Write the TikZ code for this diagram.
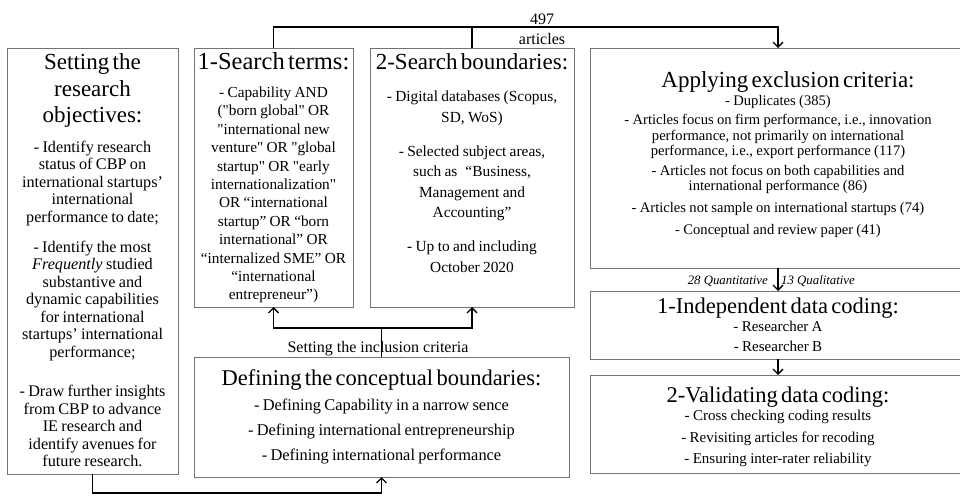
\documentclass[tikz,border=0pt]{standalone}
\usepackage{fontspec}
\setmainfont{Liberation Serif}[Ligatures=TeXOff]
\usetikzlibrary{arrows.meta, positioning}
\setlength{\parskip}{0pt}
\lineskiplimit=-\maxdimen

\newcommand{\ttlfont}{\fontsize{23}{26}\selectfont}
\newcommand{\bigttlfont}{\fontsize{24.5}{26}\selectfont}
\newcommand{\subttlfont}{\fontsize{22.5}{24}\selectfont}
\newcommand{\objfont}{\fontsize{16.2}{17.5}\selectfont}
\newcommand{\srchfont}{\fontsize{15.3}{18.4}\selectfont}
\newcommand{\bndfont}{\fontsize{15.4}{20.5}\selectfont}
\newcommand{\exclfont}{\fontsize{14.6}{15.2}\selectfont}
\newcommand{\codefont}{\fontsize{15}{20}\selectfont}
\newcommand{\validfont}{\fontsize{15}{21.5}\selectfont}
\newcommand{\cncfont}{\fontsize{16.4}{25}\selectfont}

\begin{document}
\begin{tikzpicture}[
    x=1pt, y=-1pt,
    box/.style={draw=black!55, line width=0.8pt, anchor=north west, inner xsep=2pt, inner ysep=0pt, outer sep=0pt, align=center},
    line/.style={draw=black, line width=1.6pt},
    arrow/.style={line, -{Straight Barb[length=5pt, width=10pt, line width=1.3pt]}},
    lbl/.style={inner sep=0pt, font=\fontsize{16}{18}\selectfont},
    qlbl/.style={inner sep=0pt, font=\fontsize{12.8}{14}\selectfont\itshape}
]
\useasboundingbox (0,0) rectangle (960,495);

% Objectives
\node[box, text width=167pt, text height=22pt, text depth=404pt] (obj) at (7,48) {%
{\ttlfont Setting the\\ research\\ objectives:\par}
\vspace{12.5pt}
{\objfont - Identify research\\ status of CBP on\\ international startups’\\ international\\ performance to date;\par}
\vspace{12.5pt}
{\objfont - Identify the most\\ \textit{Frequently} studied\\ substantive and\\ dynamic capabilities\\ for international\\ startups’ international\\ performance;\par}
\vspace{22pt}
{\objfont - Draw further insights\\ from CBP to advance\\ IE research and\\ identify avenues for\\ future research.\par}};

% Search layer
\node[box, text width=155pt, text height=22pt, text depth=237pt] (terms) at (194,48) {%
{\bigttlfont 1-Search terms:\par}
\vspace{9pt}
{\srchfont - Capability AND\\ ("born global" OR\\ "international new\\ venture" OR "global\\ startup" OR "early\\ internationalization"\\ OR “international\\ startup” OR “born\\ international” OR\\ “internalized SME” OR\\ “international\\ entrepreneur”)\par}};

\node[box, text width=200pt, text height=22pt, text depth=237pt] (bound) at (370,48) {%
{\ttlfont 2-Search boundaries:\par}
\vspace{11pt}
{\bndfont - Digital databases (Scopus,\\ SD, WoS)\par}
\vspace{13.5pt}
{\bndfont - Selected subject areas,\\ such as\hspace{8pt}“Business,\\ Management and\\ Accounting”\par}
\vspace{13.5pt}
{\bndfont - Up to and including\\ October 2020\par}};

% Inclusion criteria
\node[box, text width=371pt, text height=28pt, text depth=92pt] (concept) at (194,357) {%
{\subttlfont Defining the conceptual boundaries:\par}
\vspace{0.5pt}
{\cncfont - Defining Capability in a narrow sence\\ - Defining international entrepreneurship\\ - Defining international performance\par}};

% Screening and coding
\node[box, text width=372pt, text height=39pt, text depth=181pt] (excl) at (590,48) {%
{\ttlfont \hspace*{20pt}Applying exclusion criteria:\par}
\vspace{3.5pt}
{\exclfont - Duplicates (385)\par}
\vspace{4pt}
{\exclfont - Articles focus on firm performance, i.e., innovation\\ performance, not primarily on international\\ performance, i.e., export performance (117)\par}
\vspace{5.2pt}
{\exclfont - Articles not focus on both capabilities and\\ international performance (86)\par}
\vspace{6.2pt}
{\exclfont - Articles not sample on international startups (74)\par}
\vspace{7.2pt}
{\exclfont - Conceptual and review paper (41)\par}};

\node[box, text width=372pt, text height=22.5pt, text depth=45.5pt] (indep) at (590,291) {%
{\subttlfont 1-Independent data coding:\par}
\vspace{-2pt}
{\codefont - Researcher A\\ - Researcher B\par}};

\node[box, text width=372pt, text height=27pt, text depth=71pt] (valid) at (590,375) {%
{\subttlfont 2-Validating data coding:\par}
\vspace{-3pt}
{\validfont - Cross checking coding results\\ - Revisiting articles for recoding\\ - Ensuring inter-rater reliability\par}};

% Connectors
\coordinate (topbar) at (0,27);
\coordinate (inclbar) at (0,328);
\coordinate (botbar) at (0,493);

\draw[arrow] (terms.north) |- (topbar -| excl.north) -- (excl.north);
\draw[line] (bound.north) -- (bound.north |- topbar);
\node[lbl, anchor=base] (total) at (542,25) {497};
\node[lbl, anchor=base] (artlbl) at (542,45) {articles};

\node[lbl, anchor=base] (incltxt) at (378,352) {Setting the inclusion criteria};
\draw[arrow] (concept.north |- inclbar) -| (terms.south);
\draw[arrow] (concept.north |- inclbar) -| (bound.south);
\draw[line] (concept.north) -- (concept.north |- inclbar);

\draw[arrow] (obj.south) |- (botbar -| concept.south) -- (concept.south);

\draw[arrow] (excl.south) -- (indep.north);
\node[qlbl, anchor=base east] (quant) at (768,284) {28 Quantitative};
\node[qlbl, anchor=base west] (qual) at (781,284) {13 Qualitative};
\draw[arrow] (indep.south) -- (valid.north);

\end{tikzpicture}
\end{document}
